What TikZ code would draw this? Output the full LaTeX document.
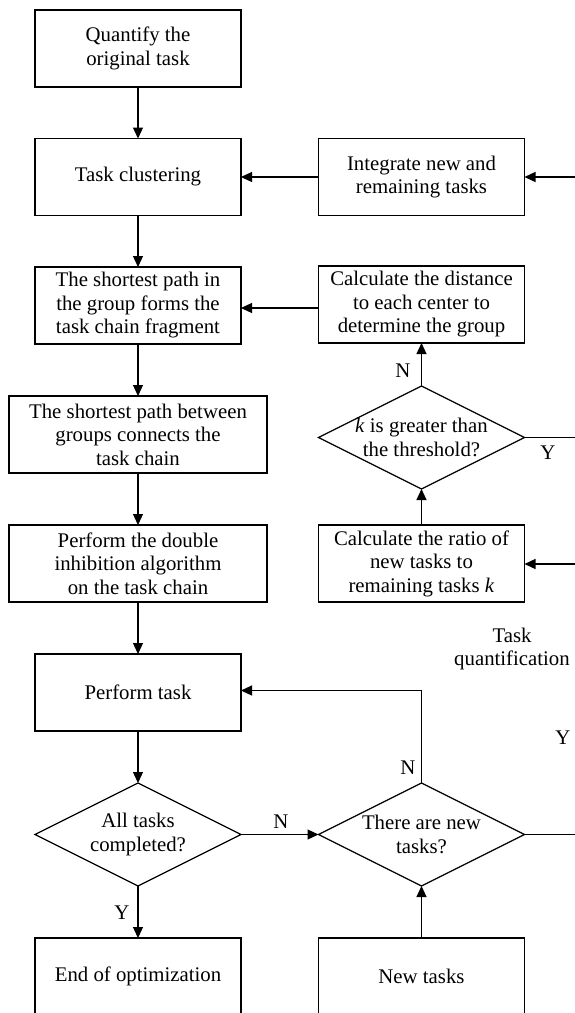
\documentclass[tikz,border=0pt]{standalone}
\usepackage{fontspec}
\setmainfont{Liberation Serif}
\usetikzlibrary{shapes.geometric,arrows.meta}
\begin{document}
\begin{tikzpicture}[x=1pt,y=-1pt,
  font=\fontsize{20.8}{23.5}\selectfont,
  every node/.style={outer sep=0pt},
  box/.style={draw, line width=1.2pt, minimum width=206pt, minimum height=77pt, inner sep=0pt, align=center},
  wbox/.style={box, minimum width=258pt},
  dia/.style={draw, line width=1.2pt, shape=diamond, minimum width=206pt, minimum height=103pt, inner sep=0pt},
  dtext/.style={align=center, inner sep=0pt},
  lbl/.style={inner sep=0pt, align=center},
  arr/.style={line width=1.2pt, -{Triangle[length=11pt,width=10pt]}},
  ln/.style={line width=1.2pt}
]
\useasboundingbox (0,0) rectangle (575,1013);
\clip (0,0) rectangle (575,1013);
% left column
\node[box]  (q)   at (138,48.5)  {Quantify the\\original task};
\node[box]  (tc)  at (138,177)   {Task clustering};
\node[box]  (sp)  at (138,305.5) {The shortest path in\\the group forms the\\task chain fragment};
\node[wbox] (spb) at (138,434.5) {The shortest path between\\groups connects the\\task chain};
\node[wbox] (pd)  at (138,563.5) {Perform the double\\inhibition algorithm\\on the task chain};
\node[box]  (pt)  at (138,692.5) {Perform task};
\node[dia]  (ac)  at (138,834.5) {};
\node[dtext] (act) at (138,834.5) {All tasks\\completed?};
\node[box]  (eo)  at (138,976.5) {End of optimization};
% right column
\node[box]  (int) at (421.5,177)   {Integrate new and\\remaining tasks};
\node[box]  (cd)  at (421.5,304.5) {Calculate the distance\\to each center to\\determine the group};
\node[dia]  (kd)  at (421.5,437.5) {};
\node[dtext] (kdt) at (421.5,437.5) {\textit{k} is greater than\\the threshold?};
\node[box]  (cr)  at (421.5,563.5) {Calculate the ratio of\\new tasks to\\remaining tasks \textit{k}};
\node[dia]  (nt)  at (421.5,834.5) {};
\node[dtext] (ntt) at (421.5,834.5) {There are new\\tasks?};
\node[box]  (nw)  at (421.5,976.5) {New tasks};
% free ends at the right edge
\coordinate (e1) at (576,177);
\coordinate (e2) at (576,437.5);
\coordinate (e3) at (576,564);
\coordinate (e4) at (576,834.5);
\coordinate (m1) at ([yshift=-3.5pt]cd.west);
% labels
\node[lbl] (lN1) at (403,371) {N};
\node[lbl] (lY1) at (548,453) {Y};
\node[lbl] (ltq) at (512,649) {Task\\quantification};
\node[lbl] (lY2) at (563,738) {Y};
\node[lbl] (lN2) at (408,768) {N};
\node[lbl] (lN3) at (281,822) {N};
\node[lbl] (lY3) at (122,913) {Y};
% connectors
\draw[arr] (q) -- (tc);
\draw[arr] (tc) -- (sp);
\draw[arr] (sp) -- (spb);
\draw[arr] (spb) -- (pd);
\draw[arr] (pd) -- (pt);
\draw[arr] (pt) -- (ac);
\draw[arr] (ac.south) -- (eo);
\draw[arr] (ac.east) -- (nt.west);
\draw[arr] (nw) -- (nt.south);
\draw[arr] (nt.north) |- ([yshift=2pt]pt.east);
\draw[ln] (nt.east) -- (e4);
\draw[arr] (e1) -- (int.east);
\draw[arr] (int) -- (tc);
\draw[arr] (m1) -- (m1 -| sp.east);
\draw[arr] (kd.north) -- (cd.south);
\draw[arr] (cr.north) -- (kd.south);
\draw[ln] (kd.east) -- (e2);
\draw[arr] (e3) -- (e3 -| cr.east);
\end{tikzpicture}
\end{document}
